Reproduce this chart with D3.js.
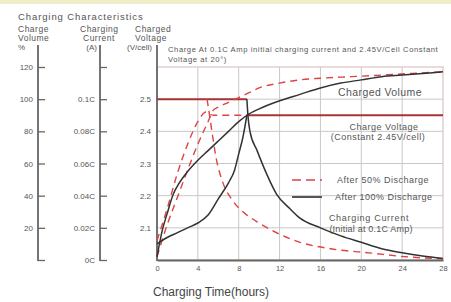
<!DOCTYPE html>
<html>
<head>
<meta charset="utf-8">
<script src="https://cdn.jsdelivr.net/npm/d3@7"></script>
<style>
  body { margin: 0; background: #fff; }
  svg { display: block; font-family: "Liberation Sans", Arial, sans-serif; }
</style>
</head>
<body>
<div id="chart"></div>
<script>
// hours on the x axis
const hourTicks = [0, 4, 8, 12, 16, 20, 24, 28];
const volumeTicks = [0, 20, 40, 60, 80, 100, 120];
const currentTicks = [0, 0.02, 0.04, 0.06, 0.08, 0.1, 0.12];
const currentLabels = ["0C", "0.02C", "0.04C", "0.06C", "0.08C", "0.1C", ""];
const voltageTicks = [2.1, 2.2, 2.3, 2.4, 2.5];

// [hours, %]
const volume100 = [[0, 2], [0.5, 18], [1, 29], [1.6, 41], [2, 46], [3, 55], [4, 62], [5, 68], [6, 74], [7, 80], [8, 86], [8.8, 90], [10, 94], [12, 99], [14, 103], [16, 107], [18, 110], [20, 112], [22, 114], [24, 115], [26, 116], [28, 117]];
const volume50 = [[0, 2], [1, 22], [2, 39], [3, 56], [4, 72], [5, 86], [5.5, 93], [6, 95], [7, 98], [8, 101], [9, 104], [10, 107], [12, 110], [14, 112], [16, 113], [19, 114], [22, 115], [25, 116], [28, 117]];
// [hours, V/cell]
const voltage100 = [[0, 2.05], [1, 2.07], [2, 2.085], [3, 2.1], [4, 2.115], [5, 2.14], [6, 2.19], [7, 2.24], [7.6, 2.28], [8, 2.33], [8.4, 2.38], [8.8, 2.45]];
const voltage50 = [[0, 2.06], [1, 2.16], [2, 2.27], [3, 2.36], [4, 2.43], [4.8, 2.46], [5.5, 2.45], [8.8, 2.45]];
// [hours, C]
const current100 = [[8.8, 0.1], [8.9, 0.09], [9.1, 0.08], [9.8, 0.068], [10.7, 0.054], [11.7, 0.041], [13, 0.032], [14, 0.026], [16, 0.02], [18, 0.015], [20, 0.011], [22, 0.007], [24, 0.0045], [26, 0.0025], [28, 0.001]];
const current50 = [[4.9, 0.1], [5, 0.096], [5.4, 0.079], [5.8, 0.063], [6.4, 0.049], [7.4, 0.037], [8.6, 0.029], [10, 0.023], [12, 0.016], [14, 0.011], [17, 0.007], [21, 0.0043], [24.4, 0.002], [28, 0.0008]];
// constant current / constant voltage stages: [from, to, value]
const constantCurrent = [0, 8.8, 0.1];
const constantVoltage = [8.8, 28, 2.45];

const width = 451, height = 302;
const svg = d3.select("#chart").append("svg")
  .attr("width", width).attr("height", height)
  .attr("viewBox", [0, 0, width, height]);

svg.append("rect").attr("width", width).attr("height", 4).attr("fill", "#efecc9");

const x = d3.scaleLinear().domain([0, 28]).range([157, 443]);
const yV = d3.scaleLinear().domain([2.0, 2.6]).range([260, 67]);
const yPct = d3.scaleLinear().domain([0, 120]).range([260, 67]);
const yCur = d3.scaleLinear().domain([0, 0.12]).range([260, 67]);

const grey = "#666", txt = "#555";

// header
svg.append("text").attr("x", 18).attr("y", 20).attr("font-size", 9.5).attr("letter-spacing", 0.9)
  .attr("fill", txt).text("Charging Characteristics");
const heads = [[18, "Charge", "Volume"], [80, "Charging", "Current"], [135, "Charged", "Voltage"]];
heads.forEach(([hx, a, b], i) => {
  svg.append("text").attr("x", hx).attr("y", 32).attr("font-size", 8.5).attr("letter-spacing", 0.5).attr("fill", txt).text(a);
  svg.append("text").attr("x", hx + (i == 1 ? 3 : 0)).attr("y", 41).attr("font-size", 8.5).attr("letter-spacing", 0.5).attr("fill", txt).text(b);
});
svg.append("text").attr("x", 18).attr("y", 50).attr("font-size", 8).attr("fill", txt).text("%");
svg.append("text").attr("x", 97).attr("y", 50).attr("font-size", 8).attr("fill", txt).attr("text-anchor", "end").text("(A)");
svg.append("text").attr("x", 152).attr("y", 50).attr("font-size", 8).attr("fill", txt).attr("text-anchor", "end").text("(V/cell)");

// note
svg.append("text").attr("x", 168).attr("y", 52).attr("font-size", 7.6).attr("letter-spacing", 0.6).attr("fill", txt)
  .text("Charge At 0.1C Amp initial charging current and 2.45V/Cell Constant");
svg.append("text").attr("x", 168).attr("y", 62).attr("font-size", 7.6).attr("letter-spacing", 0.6).attr("fill", txt)
  .text("Voltage at 20°)");

// grid
const grid = svg.append("g").attr("stroke", "#c8c8c8").attr("stroke-width", 1);
grid.selectAll("line.v").data(hourTicks.slice(1, -1)).join("line")
  .attr("x1", x).attr("x2", x).attr("y1", yV(2.6)).attr("y2", yV(2.0));
grid.selectAll("line.h").data(voltageTicks).join("line")
  .attr("x1", x(0)).attr("x2", x(28)).attr("y1", yV).attr("y2", yV);
svg.append("rect").attr("x", x(0)).attr("y", yV(2.6)).attr("width", x(28) - x(0)).attr("height", yV(2) - yV(2.6))
  .attr("fill", "none").attr("stroke", "#dcc4c4").attr("stroke-width", 1.2);

// left axes
function sideAxis(scale, ticks, fmt, px) {
  const g = svg.append("g").attr("transform", `translate(${px},0)`)
    .call(d3.axisRight(scale).tickValues(ticks).tickFormat(fmt).tickSize(7).tickSizeOuter(0));
  g.select(".domain").remove();
  g.selectAll(".tick line").attr("stroke", grey).attr("stroke-width", 1.3);
  g.selectAll(".tick text").attr("x", -5).attr("text-anchor", "end").attr("font-size", 8).attr("fill", txt);
  g.append("line").attr("y1", 45).attr("y2", 261).attr("stroke", grey).attr("stroke-width", 1.8);
}
sideAxis(yPct, volumeTicks, d => d === 0 ? "" : d, 38);
sideAxis(yCur, currentTicks, (d, i) => currentLabels[i], 100);

const gV = svg.append("g").attr("transform", `translate(${x(0)},0)`)
  .call(d3.axisLeft(yV).tickValues(voltageTicks).tickFormat(d3.format(".1f")).tickSize(0).tickPadding(6));
gV.select(".domain").remove();
gV.selectAll("text").attr("font-size", 8).attr("fill", txt);
svg.append("line").attr("x1", x(0)).attr("x2", x(0)).attr("y1", 45).attr("y2", 261).attr("stroke", grey).attr("stroke-width", 1.8);

const gX = svg.append("g").attr("transform", `translate(0,${yV(2)})`)
  .call(d3.axisBottom(x).tickValues(hourTicks).tickSize(0).tickPadding(6));
gX.select(".domain").attr("stroke", grey).attr("stroke-width", 1.8);
gX.selectAll("text").attr("font-size", 7.5).attr("fill", txt);

svg.append("text").attr("x", 153).attr("y", 296).attr("font-size", 12).attr("fill", "#444")
  .text("Charging Time(hours)");

// curves
const lineV = d3.line().x(d => x(d[0])).y(d => yV(d[1])).curve(d3.curveMonotoneX);
const linePct = d3.line().x(d => x(d[0])).y(d => yPct(d[1])).curve(d3.curveMonotoneX);
const lineCur = d3.line().x(d => x(d[0])).y(d => yCur(d[1])).curve(d3.curveMonotoneX);

const red = "#d44", dark = "#333";
const dashed = { stroke: red, "stroke-width": 1.4, "stroke-dasharray": "7,5", fill: "none" };
const solid = { stroke: dark, "stroke-width": 1.5, fill: "none" };

function draw(d, gen, style) {
  const p = svg.append("path").attr("d", gen(d));
  Object.entries(style).forEach(([k, v]) => p.attr(k, v));
}

// constant stages
svg.append("line").attr("x1", x(constantCurrent[0])).attr("x2", x(constantCurrent[1]))
  .attr("y1", yCur(constantCurrent[2])).attr("y2", yCur(constantCurrent[2]))
  .attr("stroke", "#a33").attr("stroke-width", 2);
svg.append("line").attr("x1", x(constantVoltage[0])).attr("x2", x(constantVoltage[1]))
  .attr("y1", yV(constantVoltage[2])).attr("y2", yV(constantVoltage[2]))
  .attr("stroke", "#a33").attr("stroke-width", 2);

draw(volume50, linePct, dashed);
draw(voltage50, lineV, dashed);
draw(current50, lineCur, dashed);
draw(volume100, linePct, solid);
draw(voltage100, lineV, solid);
draw(current100, lineCur, solid);

// labels inside plot
const lab = (tx, ty, s, fs, ls) => svg.append("text").attr("x", tx).attr("y", ty).attr("font-size", fs)
  .attr("letter-spacing", ls).attr("fill", txt).attr("text-anchor", "middle").text(s);
lab(380, 96, "Charged Volume", 10.5, 0.4);
lab(384, 130, "Charge Voltage", 9, 0.5);
lab(378, 140, "(Constant 2.45V/cell)", 9, 0.5);
lab(369, 221, "Charging Current", 9, 0.7);
lab(371, 232, "(Initial at 0.1C Amp)", 9, 0.2);

svg.append("line").attr("x1", 292).attr("x2", 322).attr("y1", 180).attr("y2", 180)
  .attr("stroke", red).attr("stroke-width", 1.4).attr("stroke-dasharray", "9,5");
svg.append("line").attr("x1", 292).attr("x2", 322).attr("y1", 197).attr("y2", 197)
  .attr("stroke", "#555").attr("stroke-width", 2);
svg.append("text").attr("x", 337).attr("y", 183).attr("font-size", 9).attr("letter-spacing", 0.5).attr("fill", txt).text("After 50% Discharge");
svg.append("text").attr("x", 335).attr("y", 200).attr("font-size", 9).attr("letter-spacing", 0.5).attr("fill", txt).text("After 100% Discharge");
</script>
</body>
</html>
